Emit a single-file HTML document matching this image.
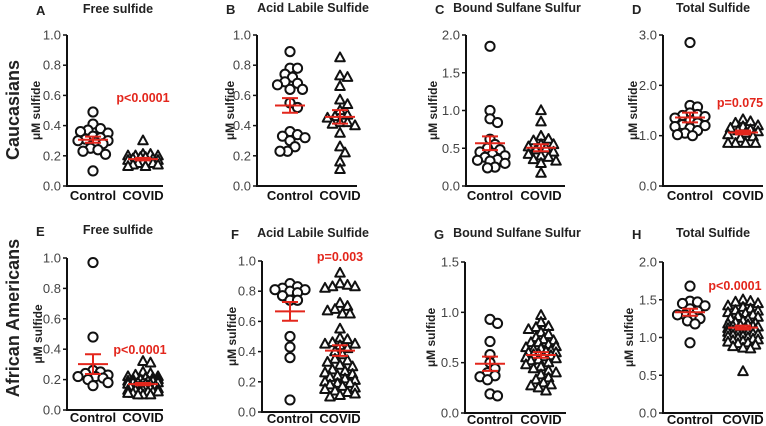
<!DOCTYPE html>
<html><head><meta charset="utf-8"><style>
html,body{margin:0;padding:0;background:#fff}
svg{display:block;font-family:"Liberation Sans",Arial,sans-serif}
</style></head><body>
<svg id="fig" width="766" height="426" viewBox="0 0 766 426">
<text x="19" y="110" transform="rotate(-90 19 110)" text-anchor="middle" font-size="18" font-weight="bold" fill="#222">Caucasians</text>
<text x="19" y="318" transform="rotate(-90 19 318)" text-anchor="middle" font-size="18" font-weight="bold" fill="#222">African Americans</text>
</svg>
<script>
const categories = ["Control","COVID"];
const aCtrl=[0.49,0.38,0.37,0.41,0.35,0.33,0.31,0.30,0.32,0.28,0.30,0.29,0.23,0.24,0.21,0.25,0.10,0.36];
const aCovid=[0.30,0.21,0.20,0.21,0.20,0.19,0.18,0.17,0.16,0.15,0.14,0.13,0.13,0.15,0.17,0.19,0.20,0.16,0.14,0.18];
const bCtrl=[0.89,0.78,0.78,0.74,0.72,0.69,0.68,0.67,0.64,0.64,0.55,0.52,0.36,0.33,0.34,0.32,0.30,0.26,0.23,0.23];
const bCovid=[0.85,0.73,0.72,0.66,0.57,0.54,0.50,0.47,0.46,0.45,0.42,0.42,0.41,0.40,0.35,0.26,0.22,0.16,0.11];
const cCtrl=[1.85,1.00,0.89,0.84,0.62,0.55,0.50,0.48,0.42,0.40,0.35,0.33,0.34,0.30,0.25,0.24,0.38,0.45];
const cCovid=[1.00,0.85,0.62,0.66,0.55,0.55,0.50,0.48,0.45,0.42,0.40,0.38,0.35,0.33,0.30,0.17,0.52,0.60];
const dCtrl=[2.85,1.60,1.57,1.45,1.40,1.38,1.35,1.30,1.25,1.22,1.20,1.18,1.15,1.10,1.05,1.02,1.00,1.42];
const dCovid=[1.32,1.28,1.25,1.20,1.15,1.12,1.10,1.08,1.05,1.02,0.98,0.95,0.85,0.85,0.85,0.85,1.18];
const eCtrl=[0.97,0.48,0.26,0.25,0.24,0.23,0.22,0.21,0.20,0.18,0.16,0.22];
const eCovid=[0.31,0.32,0.25,0.24,0.23,0.22,0.22,0.21,0.21,0.20,0.20,0.19,0.19,0.19,0.18,0.18,0.18,0.17,0.17,0.17,0.16,0.16,0.16,0.15,0.15,0.15,0.14,0.14,0.14,0.13,0.13,0.13,0.12,0.12,0.12,0.11,0.11,0.10,0.10,0.10,0.20,0.18,0.16,0.14,0.12];
const fCtrl=[0.85,0.83,0.82,0.81,0.81,0.80,0.79,0.77,0.74,0.74,0.50,0.43,0.36,0.08];
const fCovid=[0.92,0.85,0.84,0.83,0.83,0.82,0.72,0.70,0.68,0.67,0.65,0.65,0.55,0.49,0.48,0.46,0.45,0.45,0.44,0.42,0.40,0.38,0.35,0.33,0.31,0.30,0.28,0.26,0.25,0.24,0.23,0.22,0.21,0.20,0.19,0.18,0.17,0.16,0.15,0.14,0.13,0.12,0.11,0.10,0.27,0.34,0.19];
const gCtrl=[0.93,0.89,0.71,0.58,0.50,0.44,0.40,0.37,0.36,0.33,0.19,0.17];
const gCovid=[0.97,0.90,0.86,0.85,0.83,0.80,0.78,0.75,0.73,0.72,0.70,0.68,0.66,0.65,0.64,0.63,0.62,0.61,0.60,0.59,0.58,0.57,0.56,0.55,0.54,0.53,0.52,0.50,0.48,0.46,0.44,0.42,0.40,0.38,0.35,0.33,0.30,0.28,0.27,0.25,0.22,0.60,0.70];
const hCtrl=[1.68,1.47,1.45,1.48,1.42,1.38,1.35,1.30,1.28,1.25,1.22,1.18,0.93,1.30];
const hCovid=[1.50,1.48,1.47,1.45,1.42,1.40,1.38,1.36,1.35,1.33,1.32,1.30,1.28,1.27,1.25,1.24,1.22,1.20,1.19,1.18,1.17,1.16,1.15,1.14,1.13,1.12,1.11,1.10,1.09,1.08,1.07,1.06,1.05,1.04,1.03,1.02,1.01,1.00,0.99,0.98,0.97,0.96,0.95,0.94,0.93,0.92,0.90,0.88,0.86,0.85,0.55,1.10,1.15,1.05];
const pTexts=["p<0.0001","","","p=0.075","p<0.0001","p=0.003","","p<0.0001"];

const NS="http://www.w3.org/2000/svg";
const svg=document.getElementById('fig');
function mk(tag,attrs,parent){const e=document.createElementNS(NS,tag);for(const k in attrs)e.setAttribute(k,attrs[k]);(parent||svg).appendChild(e);return e;}
const RED="#e3261c";
const panels=[
 {L:"A",t:"Free sulfide",ax:67,top:35,bot:186,xe:163,max:1.0,step:0.2,c:[aCtrl,aCovid],xs:[93,143],p:[143,98],ttl:118,ty:9,yt:40,xly:200},
 {L:"B",t:"Acid Labile Sulfide",ax:257,top:35,bot:186,xe:357,max:1.0,step:0.2,c:[bCtrl,bCovid],xs:[290,340],p:null,ttl:313,ty:8,yt:234,xly:200},
 {L:"C",t:"Bound Sulfane Sulfur",ax:466,top:35,bot:186,xe:565,max:2.0,step:0.5,c:[cCtrl,cCovid],xs:[490,541],p:null,ttl:517,ty:8,yt:437,xly:200},
 {L:"D",t:"Total Sulfide",ax:663,top:35,bot:186,xe:763,max:3.0,step:1.0,c:[dCtrl,dCovid],xs:[690,743],p:[740,103],ttl:713,ty:8,yt:637,xly:200},
 {L:"E",t:"Free sulfide",ax:67,top:258,bot:410,xe:163,max:1.0,step:0.2,c:[eCtrl,eCovid],xs:[93,143],p:[140,350],ttl:118,ty:230,yt:42,xly:422},
 {L:"F",t:"Acid Labile Sulfide",ax:262,top:261,bot:412,xe:360,max:1.0,step:0.2,c:[fCtrl,fCovid],xs:[290,340],p:[340,257],ttl:313,ty:233,yt:236,xly:423},
 {L:"G",t:"Bound Sulfane Sulfur",ax:465,top:262,bot:413,xe:566,max:1.5,step:0.5,c:[gCtrl,gCovid],xs:[490,541],p:null,ttl:517,ty:233,yt:435,xly:424},
 {L:"H",t:"Total Sulfide",ax:663,top:262,bot:413,xe:763,max:2.0,step:0.5,c:[hCtrl,hCovid],xs:[690,743],p:[735,286],ttl:713,ty:233,yt:633,xly:424}
];
panels.forEach((P,pi)=>{
 const g=mk('g',{});
 
 
 const y=v=>P.bot-(v/P.max)*(P.bot-P.top);
 const lab=mk('text',{x:P.ax-31,y:P.ty+6,'font-size':13,'font-weight':'bold',fill:'#222'},g);lab.textContent=P.L;
 
 const tt=mk('text',{x:P.ttl,y:P.ty+4,'text-anchor':'middle','font-size':12.5,'font-weight':'bold',fill:'#222'},g);tt.textContent=P.t;
 
 const cy=(P.top+P.bot)/2;
 const ytl=mk('text',{x:P.yt,y:cy,transform:`rotate(-90 ${P.yt} ${cy})`,'text-anchor':'middle','font-size':12,'font-weight':'bold',fill:'#222'},g);ytl.textContent="μM sulfide";
 
 const axl=mk('path',{d:`M${P.ax} ${P.top}V${P.bot}H${P.xe}`,stroke:'#111','stroke-width':2,fill:'none'},g);
 
 const n=Math.round(P.max/P.step);
 for(let i=0;i<=n;i++){const v=i*P.step,yy=y(v);
  mk('line',{x1:P.ax-4,x2:P.ax,y1:yy,y2:yy,stroke:'#111','stroke-width':1.5},g);
  const tl=mk('text',{x:P.ax-6,y:yy+4.5,'text-anchor':'end','font-size':13,fill:'#444'},g);tl.textContent=v.toFixed(1);
  }
 P.c.forEach((vals,ci)=>{
  const cx=P.xs[ci];
  const xl=mk('text',{x:cx,y:P.xly,'text-anchor':'middle','font-size':13,'font-weight':'bold',fill:'#111'},g);xl.textContent=categories[ci];
  
  const placed=[];const r=4.6,d=2*r*0.75,cap=17;
  const order=vals.map((v,i)=>i).sort((a,b)=>vals[b]-vals[a]);
  order.forEach(i=>{const py=y(vals[i]);let px=null,best=-1,bestx=cx;
   for(let k=0;k<40;k++){const off=(k%2?1:-1)*Math.ceil(k/2)*2.5;if(Math.abs(off)>cap)continue;const tx=cx+off;
    const md=placed.length?Math.min(...placed.map(p=>Math.hypot(p[0]-tx,p[1]-py))):99;
    if(md>=d){px=tx;break;}
    if(md>best){best=md;bestx=tx;}}
   if(px===null)px=bestx;
   placed.push([px,py]);
   let m;
   if(ci===0) m=mk('circle',{cx:px,cy:py,r:r,fill:'#fff',stroke:'#111','stroke-width':2},g);
   else m=mk('path',{d:`M${px} ${py-5.2}L${px+4.8} ${py+3.6}L${px-4.8} ${py+3.6}Z`,fill:'#fff',stroke:'#111','stroke-width':2,'stroke-linejoin':'round'},g);
   
   
  });
  const mean=vals.reduce((a,b)=>a+b,0)/vals.length;
  const sd=Math.sqrt(vals.reduce((a,b)=>a+(b-mean)**2,0)/(vals.length-1));
  const sem=sd/Math.sqrt(vals.length);
  const ml=mk('line',{x1:cx-15,x2:cx+15,y1:y(mean),y2:y(mean),stroke:RED,'stroke-width':2},g);
  
  const el=mk('path',{d:`M${cx} ${y(mean+sem)}V${y(mean-sem)}M${cx-8} ${y(mean+sem)}H${cx+8}M${cx-8} ${y(mean-sem)}H${cx+8}`,stroke:RED,'stroke-width':2,fill:'none'},g);
  
 });
 if(P.p&&pTexts[pi]){const pt=mk('text',{x:P.p[0],y:P.p[1]+4,'text-anchor':'middle','font-size':12.5,'font-weight':'bold',fill:RED},g);pt.textContent=pTexts[pi];
  }
});
</script>
</body></html>
